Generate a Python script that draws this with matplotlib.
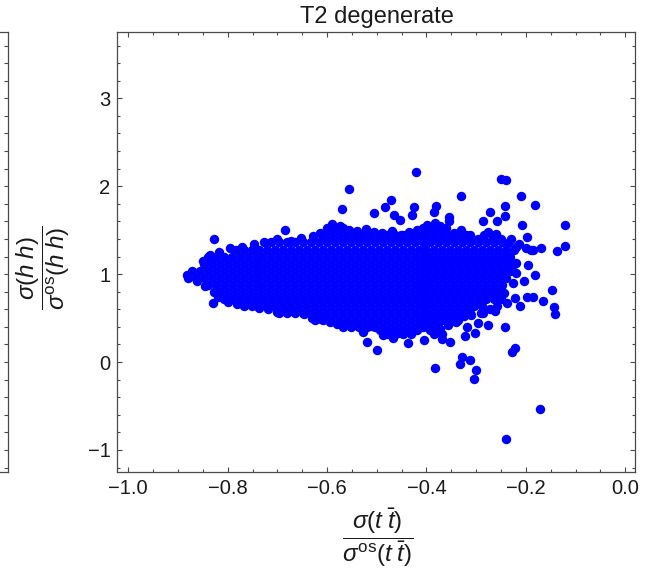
import matplotlib
matplotlib.use("Agg")
import matplotlib.pyplot as plt
from matplotlib.ticker import FixedLocator, MultipleLocator, NullLocator

plt.rcParams['font.family'] = ['Liberation Sans', 'DejaVu Sans']
plt.rcParams['mathtext.fontset'] = 'custom'
plt.rcParams['mathtext.rm'] = 'Liberation Sans'
plt.rcParams['mathtext.it'] = 'Liberation Sans:italic'
plt.rcParams['mathtext.bf'] = 'Liberation Sans:bold'

# ---------------- data ----------------
title = "T2 degenerate"
x_label = r'$\dfrac{\sigma(t\;\bar{t})}{\sigma^{\mathrm{os}}(t\;\bar{t})}$'
y_label = r'$\dfrac{\sigma(h\;h)}{\sigma^{\mathrm{os}}(h\;h)}$'

x_ticks = [-1.0, -0.8, -0.6, -0.4, -0.2, 0.0]
x_tick_labels = ["\u22121.0", "\u22120.8", "\u22120.6", "\u22120.4", "\u22120.2", "0.0"]
y_ticks = [-1, 0, 1, 2, 3]
y_tick_labels = ["\u22121", "0", "1", "2", "3"]

# dense core of the point cloud, read row by row (y value, x positions)
core_row_y = [0.32, 0.40, 0.48, 0.56, 0.64, 0.72, 0.80, 0.88, 0.96,
              1.04, 1.12, 1.20, 1.28, 1.36, 1.44, 1.52]
core_row_x = [
    [-0.480, -0.464, -0.448, -0.432, -0.384, -0.368],
    [-0.568, -0.552, -0.536, -0.520, -0.504, -0.488, -0.472, -0.456, -0.440, -0.424,
     -0.408, -0.392, -0.376],
    [-0.624, -0.608, -0.592, -0.576, -0.560, -0.544, -0.528, -0.512, -0.496, -0.480,
     -0.464, -0.448, -0.432, -0.416, -0.400, -0.384, -0.368, -0.352, -0.336],
    [-0.696, -0.680, -0.664, -0.648, -0.632, -0.616, -0.600, -0.584, -0.568, -0.552,
     -0.536, -0.520, -0.504, -0.488, -0.472, -0.456, -0.440, -0.424, -0.408, -0.392,
     -0.376, -0.360, -0.344, -0.328, -0.312],
    [-0.768, -0.752, -0.736, -0.720, -0.704, -0.688, -0.672, -0.656, -0.640, -0.624,
     -0.608, -0.592, -0.576, -0.560, -0.544, -0.528, -0.512, -0.496, -0.480, -0.464,
     -0.448, -0.432, -0.416, -0.400, -0.384, -0.368, -0.352, -0.336, -0.320, -0.304,
     -0.288],
    [-0.808, -0.792, -0.776, -0.760, -0.744, -0.728, -0.712, -0.696, -0.680, -0.664,
     -0.648, -0.632, -0.616, -0.600, -0.584, -0.568, -0.552, -0.536, -0.520, -0.504,
     -0.488, -0.472, -0.456, -0.440, -0.424, -0.408, -0.392, -0.376, -0.360, -0.344,
     -0.328, -0.312, -0.296, -0.280, -0.264],
    [-0.816, -0.800, -0.784, -0.768, -0.752, -0.736, -0.720, -0.704, -0.688, -0.672,
     -0.656, -0.640, -0.624, -0.608, -0.592, -0.576, -0.560, -0.544, -0.528, -0.512,
     -0.496, -0.480, -0.464, -0.448, -0.432, -0.416, -0.400, -0.384, -0.368, -0.352,
     -0.336, -0.320, -0.304, -0.288, -0.272, -0.256],
    [-0.840, -0.824, -0.808, -0.792, -0.776, -0.760, -0.744, -0.728, -0.712, -0.696,
     -0.680, -0.664, -0.648, -0.632, -0.616, -0.600, -0.584, -0.568, -0.552, -0.536,
     -0.520, -0.504, -0.488, -0.472, -0.456, -0.440, -0.424, -0.408, -0.392, -0.376,
     -0.360, -0.344, -0.328, -0.312, -0.296, -0.280, -0.264, -0.248],
    [-0.880, -0.864, -0.848, -0.832, -0.816, -0.800, -0.784, -0.768, -0.752, -0.736,
     -0.720, -0.704, -0.688, -0.672, -0.656, -0.640, -0.624, -0.608, -0.592, -0.576,
     -0.560, -0.544, -0.528, -0.512, -0.496, -0.480, -0.464, -0.448, -0.432, -0.416,
     -0.400, -0.384, -0.368, -0.352, -0.336, -0.320, -0.304, -0.288, -0.272, -0.256,
     -0.240],
    [-0.872, -0.856, -0.840, -0.824, -0.808, -0.792, -0.776, -0.760, -0.744, -0.728,
     -0.712, -0.696, -0.680, -0.664, -0.648, -0.632, -0.616, -0.600, -0.584, -0.568,
     -0.552, -0.536, -0.520, -0.504, -0.488, -0.472, -0.456, -0.440, -0.424, -0.408,
     -0.392, -0.376, -0.360, -0.344, -0.328, -0.312, -0.296, -0.280, -0.264, -0.248,
     -0.232],
    [-0.848, -0.832, -0.816, -0.800, -0.784, -0.768, -0.752, -0.736, -0.720, -0.704,
     -0.688, -0.672, -0.656, -0.640, -0.624, -0.608, -0.592, -0.576, -0.560, -0.544,
     -0.528, -0.512, -0.496, -0.480, -0.464, -0.448, -0.432, -0.416, -0.400, -0.384,
     -0.368, -0.352, -0.336, -0.320, -0.304, -0.288, -0.272, -0.256, -0.240, -0.224],
    [-0.840, -0.824, -0.808, -0.792, -0.776, -0.760, -0.744, -0.728, -0.712, -0.696,
     -0.680, -0.664, -0.648, -0.632, -0.616, -0.600, -0.584, -0.568, -0.552, -0.536,
     -0.520, -0.504, -0.488, -0.472, -0.456, -0.440, -0.424, -0.408, -0.392, -0.376,
     -0.360, -0.344, -0.328, -0.312, -0.296, -0.280, -0.264, -0.248, -0.232],
    [-0.784, -0.768, -0.752, -0.736, -0.720, -0.704, -0.688, -0.672, -0.656, -0.640,
     -0.624, -0.608, -0.592, -0.576, -0.560, -0.544, -0.528, -0.512, -0.496, -0.480,
     -0.464, -0.448, -0.432, -0.416, -0.400, -0.384, -0.368, -0.352, -0.336, -0.320,
     -0.304, -0.288, -0.272, -0.256, -0.240, -0.224],
    [-0.712, -0.696, -0.680, -0.664, -0.648, -0.632, -0.616, -0.600, -0.584, -0.568,
     -0.552, -0.536, -0.520, -0.504, -0.488, -0.472, -0.456, -0.440, -0.424, -0.408,
     -0.392, -0.376, -0.360, -0.344, -0.328, -0.312, -0.296, -0.280, -0.264, -0.248],
    [-0.608, -0.592, -0.576, -0.560, -0.544, -0.528, -0.512, -0.496, -0.480, -0.464,
     -0.448, -0.432, -0.416, -0.400, -0.384, -0.368, -0.352, -0.336, -0.320],
    [-0.600, -0.584, -0.568, -0.408, -0.392, -0.376, -0.360],
]

# points along the ragged upper edge of the cloud
top_edge_x = [-0.850, -0.836, -0.818, -0.796, -0.772, -0.748, -0.726, -0.700, -0.672, -0.652,
              -0.628, -0.614, -0.596, -0.575, -0.556, -0.540, -0.522, -0.506, -0.490, -0.470,
              -0.452, -0.436, -0.420, -0.398, -0.372, -0.345, -0.330, -0.312, -0.296, -0.284,
              -0.266, -0.250, -0.236, -0.214, -0.200, -0.190]
top_edge_y = [1.15, 1.22, 1.25, 1.30, 1.31, 1.34, 1.37, 1.40, 1.38, 1.41,
              1.43, 1.47, 1.50, 1.55, 1.50, 1.49, 1.51, 1.48, 1.47, 1.49,
              1.45, 1.48, 1.50, 1.56, 1.55, 1.47, 1.50, 1.44, 1.40, 1.45,
              1.42, 1.40, 1.35, 1.34, 1.30, 1.27]

# points along the ragged lower edge of the cloud
bottom_edge_x = [-0.862, -0.846, -0.828, -0.820, -0.800, -0.782, -0.752, -0.736, -0.718, -0.700,
                 -0.684, -0.664, -0.646, -0.630, -0.612, -0.594, -0.580, -0.560, -0.544, -0.526,
                 -0.510, -0.494, -0.476, -0.458, -0.442, -0.420, -0.404, -0.392, -0.372, -0.356,
                 -0.340, -0.324, -0.310, -0.290, -0.272, -0.258, -0.250]
bottom_edge_y = [0.92, 0.86, 0.80, 0.74, 0.68, 0.66, 0.67, 0.62, 0.60, 0.57,
                 0.59, 0.57, 0.55, 0.50, 0.49, 0.46, 0.43, 0.46, 0.42, 0.40,
                 0.41, 0.36, 0.35, 0.33, 0.35, 0.37, 0.41, 0.36, 0.38, 0.42,
                 0.46, 0.52, 0.53, 0.56, 0.60, 0.64, 0.72]

# scattered points around the core
scatter_x = [-0.421, -0.251, -0.241, -0.555, -0.331, -0.209, -0.471, -0.181, -0.242, -0.381,
             -0.384, -0.426, -0.483, -0.505, -0.569, -0.429, -0.465, -0.454, -0.355, -0.243,
             -0.272, -0.259, -0.287, -0.121, -0.207, -0.277, -0.260, -0.685, -0.827, -0.382,
             -0.355, -0.590, -0.229, -0.219, -0.198, -0.185, -0.170, -0.138, -0.121, -0.239,
             -0.219, -0.195, -0.182, -0.204, -0.219, -0.225, -0.245, -0.239, -0.222, -0.212,
             -0.198, -0.185, -0.166, -0.148, -0.143, -0.141, -0.242, -0.262, -0.276, -0.286,
             -0.302, -0.296, -0.319, -0.323, -0.353, -0.369, -0.406, -0.437, -0.467, -0.499,
             -0.520, -0.487, -0.527, -0.222, -0.228, -0.333, -0.313, -0.329, -0.300, -0.304,
             -0.382, -0.172, -0.241, -0.829, -0.882]
scatter_y = [2.158, 2.086, 2.071, 1.970, 1.889, 1.889, 1.843, 1.790, 1.775, 1.772,
             1.708, 1.767, 1.762, 1.692, 1.740, 1.672, 1.672, 1.615, 1.645, 1.661,
             1.710, 1.604, 1.600, 1.559, 1.559, 1.483, 1.453, 1.498, 1.396, 1.580,
             1.600, 1.570, 1.396, 1.312, 1.418, 1.274, 1.297, 1.263, 1.320, 1.199,
             1.123, 1.104, 0.986, 0.922, 1.009, 0.895, 0.781, 0.668, 0.724, 0.641,
             0.743, 0.743, 0.698, 0.819, 0.630, 0.546, 0.402, 0.584, 0.421, 0.554,
             0.326, 0.440, 0.402, 0.300, 0.231, 0.258, 0.250, 0.220, 0.269, 0.137,
             0.226, 0.307, 0.345, 0.160, 0.115, -0.017, 0.021, 0.058, -0.091, -0.189,
             -0.064, -0.535, -0.879, 0.675, 0.990]

x_limits = (-1.022, 0.0195)
y_limits = (-1.247, 3.758)

# ---------------- assemble ----------------
xs, ys = [], []
for yv, row in zip(core_row_y, core_row_x):
    xs.extend(row)
    ys.extend([yv] * len(row))
for px_list, py_list in ((top_edge_x, top_edge_y), (bottom_edge_x, bottom_edge_y),
                         (scatter_x, scatter_y)):
    xs.extend(px_list)
    ys.extend(py_list)

frame_col = '#4a4a4a'
text_col = '#1a1a1a'

fig = plt.figure(figsize=(6.45, 5.76), dpi=100)

# partial neighbouring panel at the far left (only its right frame is visible)
ax_left = fig.add_axes([-0.5, 0.1811, 0.5 + 8 / 645, 0.7639])
ax_left.set_ylim(*y_limits)
ax_left.set_xlim(0, 1)
ax_left.xaxis.set_major_locator(NullLocator())
ax_left.yaxis.set_major_locator(NullLocator())
ax_left.yaxis.set_minor_locator(MultipleLocator(0.2))
ax_left.tick_params(which='both', left=False, right=True, labelleft=False,
                    direction='in', color=frame_col, length=3.0, width=0.8)
for s in ax_left.spines.values():
    s.set_color(frame_col)
    s.set_linewidth(0.9)

ax = fig.add_axes([0.1819, 0.1811, 0.8026, 0.7639])
ax.plot(xs, ys, linestyle='none', marker='o', markersize=6.8,
        markerfacecolor='#0000ff', markeredgecolor='none')
ax.set_xlim(*x_limits)
ax.set_ylim(*y_limits)

ax.xaxis.set_major_locator(FixedLocator(x_ticks))
ax.set_xticklabels(x_tick_labels)
ax.xaxis.set_minor_locator(MultipleLocator(0.05))
ax.yaxis.set_major_locator(FixedLocator(y_ticks))
ax.set_yticklabels(y_tick_labels)
ax.yaxis.set_minor_locator(MultipleLocator(0.2))

ax.tick_params(which='both', direction='in', top=True, right=True,
               color=frame_col, labelcolor=text_col, labelsize=14.5, width=0.8)
ax.tick_params(which='major', length=3.8, pad=5)
ax.tick_params(which='minor', length=2.2)
for s in ax.spines.values():
    s.set_color(frame_col)
    s.set_linewidth(0.9)

fig.text(377 / 645, 1 - 23 / 576, title, ha='center', va='baseline',
         fontsize=17, color=text_col)
fig.text(378 / 645, 1 - 538 / 576, x_label, ha='center', va='center',
         fontsize=17.5, color=text_col)
fig.text(43 / 645, 1 - 268 / 576, y_label, ha='center', va='center',
         rotation=90, fontsize=17.5, color=text_col)

fig.savefig('out.png', dpi=100)
